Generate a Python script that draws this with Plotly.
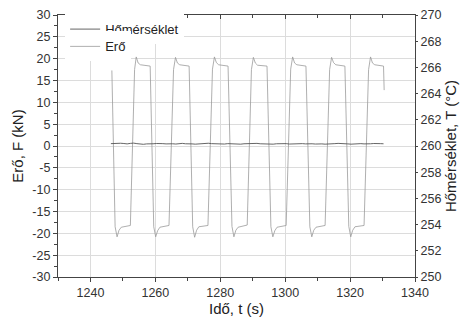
import plotly.graph_objects as go

# Force (Erő), kN
force_t = [
    1246.6, 1247.6, 1248.2, 1248.8, 1249.5, 1252.3, 1253.6, 1254.1, 1254.7, 1255.4, 1258.4,
    1259.5, 1260.1, 1260.7, 1261.4, 1264.2, 1265.6, 1266.2, 1266.8, 1267.5, 1270.4,
    1271.5, 1272.1, 1272.7, 1273.4, 1276.2, 1277.6, 1278.2, 1278.8, 1279.5, 1282.4,
    1283.6, 1284.2, 1284.8, 1285.5, 1288.3, 1289.6, 1290.2, 1290.8, 1291.5, 1294.4,
    1295.6, 1296.2, 1296.8, 1297.5, 1300.3, 1301.7, 1302.3, 1302.9, 1303.6, 1306.4,
    1307.6, 1308.2, 1308.8, 1309.5, 1312.3, 1313.7, 1314.3, 1314.9, 1315.6, 1318.4,
    1319.6, 1320.2, 1320.8, 1321.5, 1324.3, 1325.7, 1326.3, 1326.9, 1327.6, 1330.3, 1330.5,
]
force_v = [
    17.3, -18.5, -20.8, -19.3, -18.6, -18.2, 17.5, 20.4, 19.0, 18.6, 18.3,
    -18.5, -20.8, -19.4, -18.6, -18.2, 17.5, 20.3, 19.0, 18.6, 18.3,
    -18.5, -20.9, -19.3, -18.5, -18.2, 17.6, 20.4, 19.1, 18.6, 18.3,
    -18.4, -20.8, -19.3, -18.6, -18.1, 17.5, 20.3, 19.0, 18.5, 18.3,
    -18.5, -20.8, -19.4, -18.6, -18.2, 17.6, 20.4, 19.0, 18.6, 18.3,
    -18.5, -20.8, -19.3, -18.6, -18.2, 17.5, 20.3, 19.1, 18.6, 18.3,
    -18.4, -20.8, -19.3, -18.5, -18.2, 17.5, 20.4, 19.0, 18.6, 18.3, 12.8,
]

# Temperature (Hőmérséklet), °C, one reading per second from 1246.3 s
temp_start = 1246.3
temp_v = [
    260.18, 260.20, 260.17, 260.21, 260.19, 260.16, 260.20, 260.22, 260.18, 260.15,
    260.13, 260.16, 260.14, 260.17, 260.19, 260.21, 260.18, 260.16, 260.19, 260.17,
    260.15, 260.18, 260.20, 260.17, 260.19, 260.16, 260.14, 260.17, 260.15, 260.19,
    260.21, 260.18, 260.16, 260.19, 260.17, 260.15, 260.18, 260.16, 260.19, 260.17,
    260.14, 260.17, 260.19, 260.16, 260.18, 260.20, 260.17, 260.15, 260.18, 260.16,
    260.14, 260.17, 260.19, 260.16, 260.18, 260.15, 260.17, 260.19, 260.21, 260.18,
    260.16, 260.19, 260.17, 260.15, 260.18, 260.16, 260.14, 260.17, 260.15, 260.18,
    260.20, 260.17, 260.19, 260.16, 260.14, 260.17, 260.15, 260.18, 260.16, 260.14,
    260.17, 260.19, 260.16, 260.18, 260.17,
]
temp_t = [temp_start + i for i in range(len(temp_v))]

x_ticks = [1240, 1260, 1280, 1300, 1320, 1340]
y_left_ticks = list(range(-30, 31, 5))
y_left_text = [str(v) for v in y_left_ticks]
y_right_ticks = list(range(250, 271, 2))

FONT = "Liberation Sans, Arial, sans-serif"
AX = "#444444"
GRID = "#dcdcdc"

fig = go.Figure()
fig.add_trace(go.Scatter(
    x=temp_t, y=temp_v, mode="lines", name="Hőmérséklet",
    line=dict(color="#555555", width=0.9), yaxis="y2", legend="legend",
))
fig.add_trace(go.Scatter(
    x=force_t, y=force_v, mode="lines", name="Erő",
    line=dict(color="#9a9a9a", width=0.8), legend="legend2",
))
# invisible trace to enable top mirror axis
fig.add_trace(go.Scatter(x=[1230], y=[0], xaxis="x2", mode="markers",
                         marker=dict(opacity=0), showlegend=False, hoverinfo="skip"))

tickfont = dict(family=FONT, size=12.5, color="#333333")
titlefont = dict(family=FONT, size=15, color="#222222")
legfont = dict(family=FONT, size=13, color="#222222")

# page body has an 8px default margin, so the figure is sized to fit the window
fig.update_layout(
    width=464, height=316,
    margin=dict(l=50, r=57, t=7, b=47, autoexpand=False),
    paper_bgcolor="white", plot_bgcolor="white",
    showlegend=True,
    legend=dict(x=0.02, y=0.946, xanchor="left", yanchor="middle",
                bgcolor="white", borderwidth=0, font=legfont),
    legend2=dict(x=0.02, y=0.880, xanchor="left", yanchor="middle",
                 bgcolor="white", borderwidth=0, font=legfont),
    xaxis=dict(
        range=[1230, 1340], tickvals=x_ticks, ticks="outside", ticklen=4,
        tickcolor=AX, showline=True, linecolor=AX, linewidth=1.2,
        showgrid=True, gridcolor=GRID, gridwidth=1, zeroline=False,
        minor=dict(dtick=10, ticks="outside", ticklen=3, tickcolor=AX, showgrid=False),
        tickfont=tickfont, automargin=False,
        title=dict(text="Idő, t (s)", font=titlefont, standoff=3),
    ),
    xaxis2=dict(
        range=[1230, 1340], overlaying="x", side="top", tickvals=x_ticks,
        ticks="inside", ticklen=4, tickcolor=AX, showticklabels=False,
        showline=True, linecolor=AX, linewidth=1.2, showgrid=False, zeroline=False,
        minor=dict(dtick=10, ticks="inside", ticklen=3, tickcolor=AX),
        automargin=False,
    ),
    yaxis=dict(
        range=[-30, 30], tickvals=y_left_ticks, ticktext=y_left_text,
        ticks="outside", ticklen=4, ticklabeloverflow="allow",
        tickcolor=AX, showline=True, linecolor=AX, linewidth=1.2,
        showgrid=True, gridcolor=GRID, gridwidth=1, zeroline=False,
        minor=dict(dtick=2.5, ticks="outside", ticklen=3, tickcolor=AX, showgrid=False),
        tickfont=tickfont, automargin=False,
        title=dict(text="Erő, F (kN)", font=titlefont, standoff=5),
    ),
    yaxis2=dict(
        range=[250, 270], tickvals=y_right_ticks, overlaying="y", side="right",
        ticks="outside", ticklen=2, tickcolor=AX, showline=True, linecolor=AX,
        linewidth=1.2, showgrid=False, zeroline=False, ticklabeloverflow="allow",
        tickfont=tickfont, automargin=False,
        title=dict(text="Hőmérséklet, T (°C)", font=titlefont, standoff=4),
    ),
)

fig.write_html("out.html")
